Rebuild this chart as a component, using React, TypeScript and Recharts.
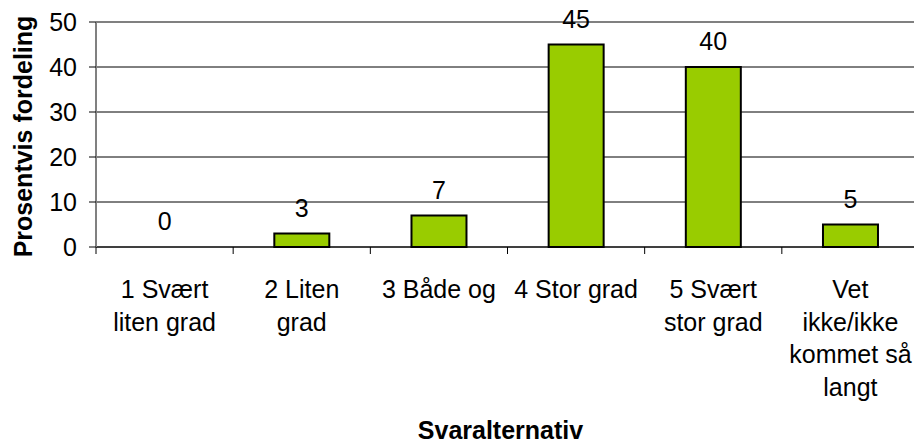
import React from 'react';
import { ComposedChart, Bar, Line, XAxis, YAxis, CartesianGrid, ReferenceLine, LabelList } from 'recharts';

const categories = [
  '1 Svært\nliten grad',
  '2 Liten\ngrad',
  '3 Både og',
  '4 Stor grad',
  '5 Svært\nstor grad',
  'Vet\nikke/ikke\nkommet så\nlangt',
];
const percentages = [0, 3, 7, 45, 40, 5];
const yTicks = [0, 10, 20, 30, 40, 50];

const data = categories.map((name, i) => ({ name, value: percentages[i] }));

const FONT = '"Liberation Sans", Arial, sans-serif';
const FS = 25;

// category labels sit centred in the band, tick marks sit on the band edges
const CategoryTick: React.FC<any> = ({ x, y, payload, index, visibleTicksCount }) => {
  const half = payload?.offset ?? 0;
  const axisY = y - 7;
  const lines = String(payload.value).split('\n');
  return (
    <g>
      <line x1={x - half} x2={x - half} y1={axisY} y2={axisY + 7} stroke="#000" />
      {index === visibleTicksCount - 1 && (
        <line x1={x + half} x2={x + half} y1={axisY} y2={axisY + 7} stroke="#000" />
      )}
      <text x={x} y={axisY + 51} textAnchor="middle" fontSize={FS} fontFamily={FONT} fill="#000">
        {lines.map((l, i) => (
          <tspan key={i} x={x} dy={i === 0 ? 0 : 32.7}>{l}</tspan>
        ))}
      </text>
    </g>
  );
};

const YTitle: React.FC<any> = ({ viewBox }) => {
  const cx = viewBox.x + 23;
  const cy = viewBox.y + viewBox.height / 2 + 2;
  return (
    <text x={cx} y={cy} transform={`rotate(-90 ${cx} ${cy})`} textAnchor="middle" dominantBaseline="central"
      fontSize={FS} fontWeight="bold" fontFamily={FONT} fill="#000">
      Prosentvis fordeling
    </text>
  );
};

const XTitle: React.FC<any> = ({ viewBox }) => {
  const cx = viewBox.x + viewBox.width / 2 - 7;
  return (
    <text x={cx} y={439} textAnchor="middle" fontSize={FS} fontWeight="bold" fontFamily={FONT} fill="#000">
      Svaralternativ
    </text>
  );
};

export default function App() {
  return (
    <div style={{ position: 'absolute', left: 0, top: 0, width: 914, height: 445, overflow: 'hidden', background: '#fff' }}>
      <ComposedChart width={919} height={445} data={data} margin={{ top: 22, right: 0, left: 0, bottom: 0 }} barCategoryGap="30%">
        <CartesianGrid vertical={false} stroke="#000" />
        <XAxis dataKey="name" interval={0} height={198} tickLine={false} tickSize={7} tickMargin={0}
          axisLine={{ stroke: '#000' }} tick={<CategoryTick />} label={<XTitle />} />
        <YAxis width={96} domain={[0, 50]} ticks={yTicks} interval={0} tickSize={7} tickMargin={12}
          tickLine={{ stroke: '#000' }} axisLine={{ stroke: '#808080', strokeWidth: 2 }}
          tick={{ fontSize: FS, fontFamily: FONT, fill: '#000' }} label={<YTitle />} />
        <ReferenceLine y={50} stroke="#808080" strokeWidth={2} />
        <Bar dataKey="value" fill="#99cc00" stroke="#000" strokeWidth={2} isAnimationActive={false} />
        {/* invisible series that only carries the value labels, so the 0 gets one too */}
        <Line dataKey="value" stroke="none" dot={false} activeDot={false} isAnimationActive={false}>
          <LabelList dataKey="value" position="top" offset={17} fontSize={FS} fontFamily={FONT} fill="#000" />
        </Line>
      </ComposedChart>
    </div>
  );
}
